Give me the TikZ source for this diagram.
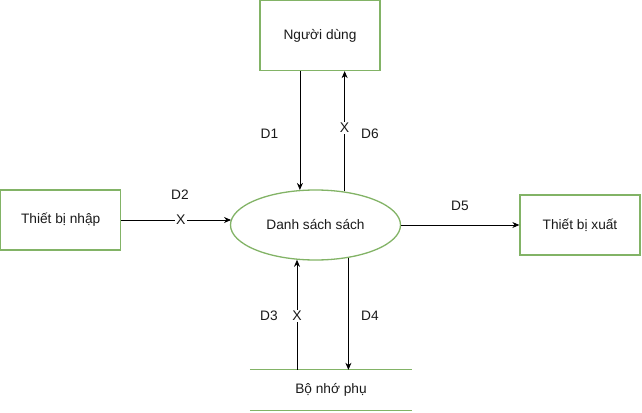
\documentclass[tikz,border=0pt]{standalone}
\usepackage{fontspec}
\setmainfont{Liberation Sans}
\usetikzlibrary{shapes.geometric,arrows.meta}
\definecolor{grn}{HTML}{82B366}
\definecolor{txt}{HTML}{1A1A1A}
\tikzset{
  every node/.style={font=\fontsize{13.7}{15}\selectfont, text=txt},
  entity/.style={draw=grn, line width=1.3pt, fill=white, minimum width=120pt, minimum height=60pt, inner sep=0pt},
  proc/.style={draw=grn, line width=1.3pt, ellipse, minimum width=170pt, minimum height=70pt, inner sep=0pt},
  flow/.style={draw=black, line width=0.8pt, -{Stealth[length=7pt,width=6pt]}},
  xmark/.style={fill=white, inner sep=1pt, font=\fontsize{14}{15}\selectfont},
  lbl/.style={inner sep=0pt}
}
\begin{document}
\begin{tikzpicture}[x=1pt,y=-1pt]
\useasboundingbox (0,0) rectangle (642,412);
\node[entity, minimum height=70pt] (user) at (320,35.5) {Người dùng};
\node[entity] (input) at (60.7,220) {Thiết bị nhập};
\node[entity] (output) at (580,225) {Thiết bị xuất};
\node[proc] (ell) at (315.5,225) {Danh sách sách};
\node[minimum width=162pt, minimum height=40pt, inner sep=0pt] (store) at (331,390) {Bộ nhớ phụ};
\draw[grn, line width=1.3pt] (store.north west) -- (store.north east);
\draw[grn, line width=1.3pt] (store.south west) -- (store.south east);
% D1
\draw[flow] (ell.114.3 |- user.south) -- (ell.114.3);
% D6
\draw[flow] (ell.49.2) -- node[xmark, pos=0.53]{X} (ell.49.2 |- user.south);
% D2
\draw[flow] (input.east) -- node[xmark, pos=0.543]{X} (input.east -| ell.176.6);
% D5
\draw[flow] (ell.east) -- (output.west);
% D3
\draw[flow] (ell.-118.4 |- store.north) -- node[xmark, pos=0.49]{X} (ell.-118.4);
% D4
\draw[flow] (ell.-45.9) -- (ell.-45.9 |- store.north);
% labels
\node[lbl] (l1) at (269.5,134) {D1};
\node[lbl] (l6) at (370,134) {D6};
\node[lbl] (l2) at (180,195) {D2};
\node[lbl] (l5) at (460,206) {D5};
\node[lbl] (l3) at (269,316) {D3};
\node[lbl] (l4) at (370,316) {D4};
\end{tikzpicture}
\end{document}
